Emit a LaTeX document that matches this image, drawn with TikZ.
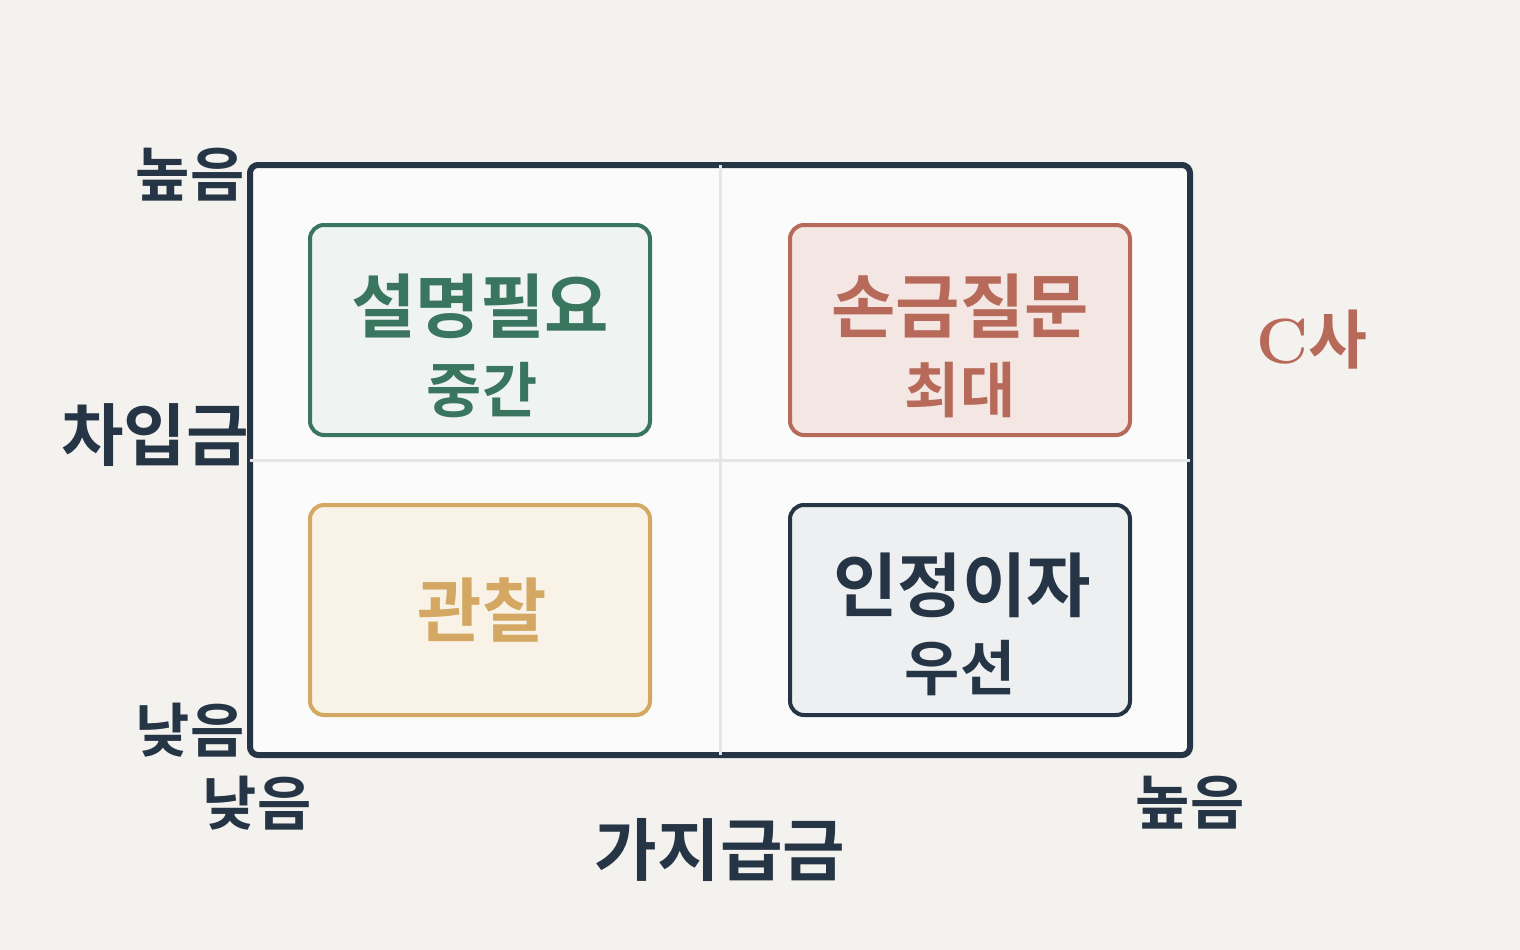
\documentclass[tikz,border=0pt]{standalone}
\usepackage{fontspec}
\newfontfamily\kr{Noto Sans CJK KR}[BoldFont={* Bold}]
\definecolor{bg}{HTML}{F4F2EE}
\definecolor{ink}{HTML}{253545}
\definecolor{grn}{HTML}{3A7560}
\definecolor{red}{HTML}{B86A5A}
\definecolor{gold}{HTML}{D4A862}
\begin{document}
\begin{tikzpicture}[x=1pt,y=-1pt,
  box/.style={draw,line width=4pt,rounded corners=14pt},
  big/.style={font=\kr\bfseries\fontsize{70}{70}\selectfont},
  mid/.style={font=\kr\bfseries\fontsize{60}{60}\selectfont},
  lab/.style={font=\kr\bfseries\fontsize{59}{59}\selectfont,text=ink}]
\fill[bg] (0,0) rectangle (1520,950);
\useasboundingbox (0,0) rectangle (1520,950);
\node[draw=ink,fill=white!97!gray,line width=6pt,rounded corners=8pt,minimum width=940pt,minimum height=590pt] (frame) at (720,460) {};
\draw[line width=3pt,draw=gray!20] (720,165) coordinate (t) -- (720,755) coordinate (b);
\draw[line width=3pt,draw=gray!20] (250,460) coordinate (l) -- (1190,460) coordinate (r);
\draw[box,draw=grn,fill=grn!8] (310,225) rectangle (650,435);
\draw[box,draw=red,fill=red!17] (790,225) rectangle (1130,435);
\draw[box,draw=gold,fill=gold!15] (310,505) rectangle (650,715);
\draw[box,draw=ink,fill=ink!8] (790,505) rectangle (1130,715);
\node[big,text=grn] (a1) at (480,306) {설명필요};
\node[mid,text=grn] (a2) at (482,390) {중간};
\node[big,text=red] (b1) at (960,306) {손금질문};
\node[mid,text=red] (b2) at (960,390) {최대};
\node[big,text=gold] (c1) at (482,610) {관찰};
\node[big,text=ink] (d1) at (962,585) {인정이자};
\node[mid,text=ink] (d2) at (960,668) {우선};
\node[lab] (yh) at (190,175) {높음};
\node[lab,font=\kr\bfseries\fontsize{68}{68}\selectfont] (y) at (155,435) {차입금};
\node[lab] (yl) at (190,730) {낮음};
\node[lab] (xl) at (257,803) {낮음};
\node[lab,font=\kr\bfseries\fontsize{68}{68}\selectfont] (x) at (720,850) {가지급금};
\node[lab] (xh) at (1190,803) {높음};
\node[text=red,font=\kr\bfseries\fontsize{64}{64}\selectfont] (cs) at (1312,340) {{\rmfamily\bfseries C}사};
\end{tikzpicture}
\end{document}
